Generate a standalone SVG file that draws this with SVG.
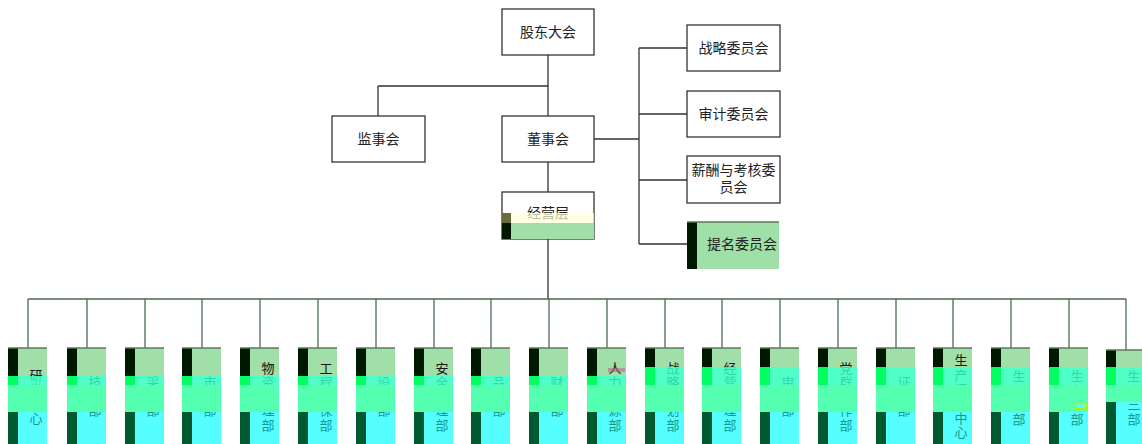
<svg xmlns="http://www.w3.org/2000/svg" width="1142" height="444" viewBox="0 0 1142 444">
<defs>
<style>
.box{fill:#ffffff;stroke:#333333;stroke-width:1.3}
.t{font-family:"Noto Sans CJK SC","Liberation Sans",sans-serif;font-size:14px;fill:#222222;text-anchor:middle}
.v{font-family:"Noto Sans CJK SC","Liberation Sans",sans-serif;font-size:13px;text-anchor:middle}
.ln{stroke:#333333;stroke-width:1.3;fill:none}
.gl{stroke:#4d6b4d;stroke-width:1.3;fill:none}
.edge{stroke:#5a7a5a;stroke-width:1.3}
</style>
<linearGradient id="bgA" gradientUnits="userSpaceOnUse" x1="0" y1="348" x2="0" y2="444">
<stop offset="0.2917" stop-color="#a0dfa8"/><stop offset="0.2917" stop-color="#50ffc8"/>
<stop offset="0.3854" stop-color="#50ffc8"/><stop offset="0.3854" stop-color="#55ffb0"/>
<stop offset="0.6667" stop-color="#55ffb0"/><stop offset="0.6667" stop-color="#55ffff"/>
</linearGradient>
<linearGradient id="stA" gradientUnits="userSpaceOnUse" x1="0" y1="348" x2="0" y2="444">
<stop offset="0.2917" stop-color="#001800"/><stop offset="0.2917" stop-color="#00ff60"/>
<stop offset="0.3854" stop-color="#00ff60"/><stop offset="0.3854" stop-color="#55ffb0"/>
<stop offset="0.6667" stop-color="#55ffb0"/><stop offset="0.6667" stop-color="#005a30"/>
</linearGradient>
<linearGradient id="txA" gradientUnits="userSpaceOnUse" x1="0" y1="348" x2="0" y2="444">
<stop offset="0.2917" stop-color="#1a1a1a"/><stop offset="0.2917" stop-color="#2fd8a8"/>
<stop offset="0.3854" stop-color="#2fd8a8"/><stop offset="0.3854" stop-color="#55ffb0"/>
<stop offset="0.6667" stop-color="#55ffb0"/><stop offset="0.6667" stop-color="#159a8a"/>
</linearGradient>
<linearGradient id="bgB" gradientUnits="userSpaceOnUse" x1="0" y1="348" x2="0" y2="444">
<stop offset="0.1979" stop-color="#a0dfa8"/><stop offset="0.1979" stop-color="#50ffc8"/>
<stop offset="0.3854" stop-color="#50ffc8"/><stop offset="0.3854" stop-color="#55ffb0"/>
<stop offset="0.6667" stop-color="#55ffb0"/><stop offset="0.6667" stop-color="#55ffff"/>
</linearGradient>
<linearGradient id="stB" gradientUnits="userSpaceOnUse" x1="0" y1="348" x2="0" y2="444">
<stop offset="0.1979" stop-color="#001800"/><stop offset="0.1979" stop-color="#00ff60"/>
<stop offset="0.3854" stop-color="#00ff60"/><stop offset="0.3854" stop-color="#55ffb0"/>
<stop offset="0.6667" stop-color="#55ffb0"/><stop offset="0.6667" stop-color="#005a30"/>
</linearGradient>
<linearGradient id="txB" gradientUnits="userSpaceOnUse" x1="0" y1="348" x2="0" y2="444">
<stop offset="0.1979" stop-color="#1a1a1a"/><stop offset="0.1979" stop-color="#2fd8a8"/>
<stop offset="0.3854" stop-color="#2fd8a8"/><stop offset="0.3854" stop-color="#55ffb0"/>
<stop offset="0.6667" stop-color="#55ffb0"/><stop offset="0.6667" stop-color="#159a8a"/>
</linearGradient>
<linearGradient id="bgC" gradientUnits="userSpaceOnUse" x1="0" y1="348" x2="0" y2="444">
<stop offset="0.1979" stop-color="#a0dfa8"/><stop offset="0.1979" stop-color="#50ffc8"/>
<stop offset="0.3854" stop-color="#50ffc8"/><stop offset="0.3854" stop-color="#55ffb0"/>
<stop offset="0.5625" stop-color="#55ffb0"/><stop offset="0.5625" stop-color="#55ffff"/>
</linearGradient>
<linearGradient id="stC" gradientUnits="userSpaceOnUse" x1="0" y1="348" x2="0" y2="444">
<stop offset="0.1979" stop-color="#001800"/><stop offset="0.1979" stop-color="#00ff60"/>
<stop offset="0.3854" stop-color="#00ff60"/><stop offset="0.3854" stop-color="#55ffb0"/>
<stop offset="0.5625" stop-color="#55ffb0"/><stop offset="0.5625" stop-color="#005a30"/>
</linearGradient>
<linearGradient id="txC" gradientUnits="userSpaceOnUse" x1="0" y1="348" x2="0" y2="444">
<stop offset="0.1979" stop-color="#1a1a1a"/><stop offset="0.1979" stop-color="#2fd8a8"/>
<stop offset="0.3854" stop-color="#2fd8a8"/><stop offset="0.3854" stop-color="#55ffb0"/>
<stop offset="0.5625" stop-color="#55ffb0"/><stop offset="0.5625" stop-color="#159a8a"/>
</linearGradient>
</defs>
<rect width="1142" height="444" fill="#ffffff"/>

<g id="connectors">
<path class="ln" d="M548 55V116M378 86H548M378 86V116M594 139H639M639 48V244M639 48H687M639 114H687M639 180H687M639 244H687M548 162V192M548 239V299"/>
<path class="gl" d="M28 299H1126M28 299V348M87 299V348M145 299V348M202 299V348M260 299V348M318 299V348M376 299V348M434 299V348M491 299V348M549 299V348M607 299V348M665 299V348M722 299V348M780 299V348M838 299V348M896 299V348M953 299V348M1011 299V348M1069 299V348M1126 299V350"/>
</g>

<g id="gudong"><rect class="box" x="502" y="9" width="92" height="46"/><text class="t" x="548" y="37">股东大会</text></g>
<g id="jianshi"><rect class="box" x="332" y="116" width="93" height="46"/><text class="t" x="378.5" y="144">监事会</text></g>
<g id="dongshi"><rect class="box" x="502" y="116" width="92" height="46"/><text class="t" x="548" y="144">董事会</text></g>
<g id="zhanlue-wyh"><rect class="box" x="687" y="25" width="93" height="46"/><text class="t" x="733.5" y="53">战略委员会</text></g>
<g id="shenji-wyh"><rect class="box" x="687" y="91" width="93" height="46"/><text class="t" x="733.5" y="119">审计委员会</text></g>
<g id="xinchou-wyh"><rect class="box" x="687" y="156" width="93" height="47"/><text class="t" x="733.5" y="175">薪酬与考核委</text><text class="t" x="733.5" y="192">员会</text></g>
<g id="timing-wyh">
<rect x="687" y="222" width="92" height="47" fill="#a0dfa8"/>
<rect x="687" y="222" width="10" height="47" fill="#001800"/>
<line class="edge" x1="687" y1="222" x2="779" y2="222"/>
<text class="t" x="742" y="249" fill="#111111">提名委员会</text>
</g>
<g id="jingying">
<rect class="box" x="502" y="192" width="92" height="47"/>
<text class="t" x="548" y="218">经营层</text>
<rect x="502" y="213" width="92" height="10" fill="#ffffd8" opacity="0.7"/>
<rect x="502" y="213" width="9" height="10" fill="#6b6b40"/>
<rect x="502" y="223" width="92" height="16" fill="#a0dfa8"/>
<rect x="502" y="223" width="9" height="16" fill="#001800"/>
</g>

<g id="d1"><rect x="8" y="348" width="39" height="96" fill="url(#bgA)"/><rect x="8" y="348" width="10" height="96" fill="url(#stA)"/><line class="edge" x1="8" y1="348" x2="47" y2="348"/>
<text class="v" fill="url(#txA)"><tspan x="36" y="379.6">研</tspan><tspan x="36" y="393.9">发</tspan><tspan x="36" y="408.2">中</tspan><tspan x="36" y="422.5">心</tspan></text></g>
<g id="d2"><rect x="67" y="348" width="39" height="96" fill="url(#bgA)"/><rect x="67" y="348" width="10" height="96" fill="url(#stA)"/><line class="edge" x1="67" y1="348" x2="106" y2="348"/>
<text class="v" fill="url(#txA)"><tspan x="95" y="386.8">技</tspan><tspan x="95" y="401.1">术</tspan><tspan x="95" y="415.4">部</tspan></text></g>
<g id="d3"><rect x="125" y="348" width="39" height="96" fill="url(#bgA)"/><rect x="125" y="348" width="10" height="96" fill="url(#stA)"/><line class="edge" x1="125" y1="348" x2="164" y2="348"/>
<text class="v" fill="url(#txA)"><tspan x="153" y="386.8">采</tspan><tspan x="153" y="401.1">购</tspan><tspan x="153" y="415.4">部</tspan></text></g>
<g id="d4"><rect x="182" y="348" width="39" height="96" fill="url(#bgA)"/><rect x="182" y="348" width="10" height="96" fill="url(#stA)"/><line class="edge" x1="182" y1="348" x2="221" y2="348"/>
<text class="v" fill="url(#txA)"><tspan x="210" y="386.8">市</tspan><tspan x="210" y="401.1">场</tspan><tspan x="210" y="415.4">部</tspan></text></g>
<g id="d5"><rect x="240" y="348" width="39" height="96" fill="url(#bgA)"/><rect x="240" y="348" width="10" height="96" fill="url(#stA)"/><line class="edge" x1="240" y1="348" x2="279" y2="348"/>
<text class="v" fill="url(#txA)"><tspan x="268" y="372.5">物</tspan><tspan x="268" y="386.8">资</tspan><tspan x="268" y="401.1">管</tspan><tspan x="268" y="415.4">理</tspan><tspan x="268" y="429.7">部</tspan></text></g>
<g id="d6"><rect x="298" y="348" width="39" height="96" fill="url(#bgA)"/><rect x="298" y="348" width="10" height="96" fill="url(#stA)"/><line class="edge" x1="298" y1="348" x2="337" y2="348"/>
<text class="v" fill="url(#txA)"><tspan x="326" y="372.5">工</tspan><tspan x="326" y="386.8">程</tspan><tspan x="326" y="401.1">环</tspan><tspan x="326" y="415.4">保</tspan><tspan x="326" y="429.7">部</tspan></text></g>
<g id="d7"><rect x="356" y="348" width="39" height="96" fill="url(#bgA)"/><rect x="356" y="348" width="10" height="96" fill="url(#stA)"/><line class="edge" x1="356" y1="348" x2="395" y2="348"/>
<text class="v" fill="url(#txA)"><tspan x="384" y="386.8">设</tspan><tspan x="384" y="401.1">备</tspan><tspan x="384" y="415.4">部</tspan></text></g>
<g id="d8"><rect x="414" y="348" width="39" height="96" fill="url(#bgA)"/><rect x="414" y="348" width="10" height="96" fill="url(#stA)"/><line class="edge" x1="414" y1="348" x2="453" y2="348"/>
<text class="v" fill="url(#txA)"><tspan x="442" y="372.5">安</tspan><tspan x="442" y="386.8">全</tspan><tspan x="442" y="401.1">管</tspan><tspan x="442" y="415.4">理</tspan><tspan x="442" y="429.7">部</tspan></text></g>
<g id="d9"><rect x="471" y="348" width="39" height="96" fill="url(#bgA)"/><rect x="471" y="348" width="10" height="96" fill="url(#stA)"/><line class="edge" x1="471" y1="348" x2="510" y2="348"/>
<text class="v" fill="url(#txA)"><tspan x="499" y="386.8">品</tspan><tspan x="499" y="401.1">质</tspan><tspan x="499" y="415.4">部</tspan></text></g>
<g id="d10"><rect x="529" y="348" width="39" height="96" fill="url(#bgA)"/><rect x="529" y="348" width="10" height="96" fill="url(#stA)"/><line class="edge" x1="529" y1="348" x2="568" y2="348"/>
<text class="v" fill="url(#txA)"><tspan x="557" y="386.8">财</tspan><tspan x="557" y="401.1">务</tspan><tspan x="557" y="415.4">部</tspan></text></g>
<g id="d11"><rect x="587" y="348" width="39" height="96" fill="url(#bgA)"/><rect x="587" y="348" width="10" height="96" fill="url(#stA)"/><line class="edge" x1="587" y1="348" x2="626" y2="348"/>
<text class="v" fill="url(#txA)"><tspan x="615" y="372.5">人</tspan><tspan x="615" y="386.8">力</tspan><tspan x="615" y="401.1">资</tspan><tspan x="615" y="415.4">源</tspan><tspan x="615" y="429.7">部</tspan></text>
<rect x="608" y="368" width="17" height="4" fill="#c05a8a" opacity="0.55"/></g>
<g id="d12"><rect x="645" y="348" width="39" height="96" fill="url(#bgB)"/><rect x="645" y="348" width="10" height="96" fill="url(#stB)"/><line class="edge" x1="645" y1="348" x2="684" y2="348"/>
<text class="v" fill="url(#txB)"><tspan x="673" y="372.5">战</tspan><tspan x="673" y="386.8">略</tspan><tspan x="673" y="401.1">规</tspan><tspan x="673" y="415.4">划</tspan><tspan x="673" y="429.7">部</tspan></text></g>
<g id="d13"><rect x="702" y="348" width="39" height="96" fill="url(#bgB)"/><rect x="702" y="348" width="10" height="96" fill="url(#stB)"/><line class="edge" x1="702" y1="348" x2="741" y2="348"/>
<text class="v" fill="url(#txB)"><tspan x="730" y="372.5">经</tspan><tspan x="730" y="386.8">营</tspan><tspan x="730" y="401.1">管</tspan><tspan x="730" y="415.4">理</tspan><tspan x="730" y="429.7">部</tspan></text></g>
<g id="d14"><rect x="760" y="348" width="39" height="96" fill="url(#bgB)"/><rect x="760" y="348" width="10" height="96" fill="url(#stB)"/><line class="edge" x1="760" y1="348" x2="799" y2="348"/>
<text class="v" fill="url(#txB)"><tspan x="788" y="386.8">审</tspan><tspan x="788" y="401.1">计</tspan><tspan x="788" y="415.4">部</tspan></text></g>
<g id="d15"><rect x="818" y="348" width="39" height="96" fill="url(#bgB)"/><rect x="818" y="348" width="10" height="96" fill="url(#stB)"/><line class="edge" x1="818" y1="348" x2="857" y2="348"/>
<text class="v" fill="url(#txB)"><tspan x="846" y="372.5">党</tspan><tspan x="846" y="386.8">群</tspan><tspan x="846" y="401.1">工</tspan><tspan x="846" y="415.4">作</tspan><tspan x="846" y="429.7">部</tspan></text></g>
<g id="d16"><rect x="876" y="348" width="39" height="96" fill="url(#bgB)"/><rect x="876" y="348" width="10" height="96" fill="url(#stB)"/><line class="edge" x1="876" y1="348" x2="915" y2="348"/>
<text class="v" fill="url(#txB)"><tspan x="904" y="386.8">证</tspan><tspan x="904" y="401.1">券</tspan><tspan x="904" y="415.4">部</tspan></text></g>
<g id="d17"><rect x="933" y="348" width="39" height="96" fill="url(#bgB)"/><rect x="933" y="348" width="10" height="96" fill="url(#stB)"/><line class="edge" x1="933" y1="348" x2="972" y2="348"/>
<text class="v" fill="url(#txB)"><tspan x="961" y="365.4">生</tspan><tspan x="961" y="379.7">产</tspan><tspan x="961" y="394">调</tspan><tspan x="961" y="408.3">度</tspan><tspan x="961" y="422.6">中</tspan><tspan x="961" y="436.9">心</tspan></text></g>
<g id="d18"><rect x="991" y="348" width="39" height="96" fill="url(#bgB)"/><rect x="991" y="348" width="10" height="96" fill="url(#stB)"/><line class="edge" x1="991" y1="348" x2="1030" y2="348"/>
<text class="v" fill="url(#txB)"><tspan x="1019" y="380.6">生</tspan><tspan x="1019" y="394.9">产</tspan><tspan x="1019" y="409.2">一</tspan><tspan x="1019" y="423.5">部</tspan></text></g>
<g id="d19"><rect x="1049" y="348" width="39" height="96" fill="url(#bgB)"/><rect x="1049" y="348" width="10" height="96" fill="url(#stB)"/><line class="edge" x1="1049" y1="348" x2="1088" y2="348"/>
<text class="v" fill="url(#txB)"><tspan x="1077" y="380.6">生</tspan><tspan x="1077" y="394.9">产</tspan><tspan x="1077" y="409.2">二</tspan><tspan x="1077" y="423.5">部</tspan></text>
<rect x="1075.5" y="403.5" width="11" height="5" fill="#55ffff" stroke="#b0f000" stroke-width="1.5"/></g>
<g id="d20"><rect x="1106" y="350" width="39" height="94" fill="url(#bgC)"/><rect x="1106" y="350" width="10" height="94" fill="url(#stC)"/><line class="edge" x1="1106" y1="350" x2="1142" y2="350"/>
<text class="v" fill="url(#txC)"><tspan x="1134" y="380.6">生</tspan><tspan x="1134" y="394.9">产</tspan><tspan x="1134" y="409.2">三</tspan><tspan x="1134" y="423.5">部</tspan></text></g>
</svg>
